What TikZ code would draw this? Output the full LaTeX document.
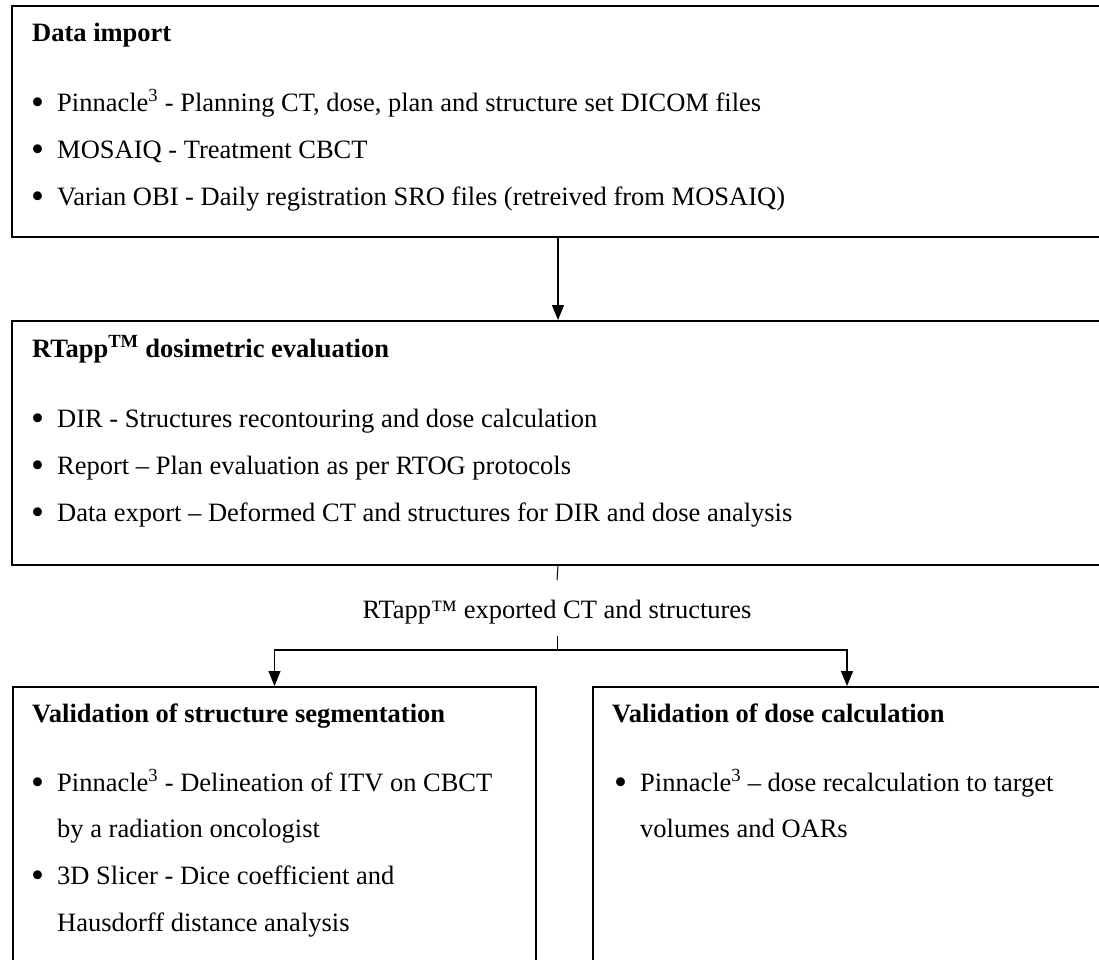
\documentclass[tikz,border=0pt]{standalone}
\usepackage{fontspec}
\setmainfont{Liberation Serif}
\usetikzlibrary{arrows.meta}
\begin{document}
\begin{tikzpicture}[x=1pt,y=-1pt,
  box/.style={draw=black,line width=2pt,rectangle,inner sep=0pt,anchor=north west},
  txt/.style={anchor=base west,inner sep=0pt,font=\fontsize{26.5}{30}\selectfont},
  ttl/.style={txt,font=\fontsize{26.5}{30}\selectfont\bfseries},
  bul/.style={anchor=base west,inner sep=0pt,font=\fontsize{37}{40}\selectfont},
  conn/.style={line width=1.2pt,draw=black},
  arr/.style={conn,-{Triangle[length=15pt,width=12pt]}}]
\useasboundingbox (0,0) rectangle (1099,959);
\clip (0,0) rectangle (1099,959);
\fill[white] (0,0) rectangle (1099,959);
% boxes
\node[box,minimum width=1092pt,minimum height=231pt] (b1) at (11,5) {};
\node[box,minimum width=1092pt,minimum height=244pt] (b2) at (11,320) {};
\node[box,minimum width=523pt,minimum height=300pt] (b3) at (12,686) {};
\node[box,minimum width=508pt,minimum height=300pt] (b4) at (592,686) {};
% box 1 text
\node[ttl] (t1) at (32,41) {Data import};
\node[bul] (d1) at (31,114) {•};
\node[txt] (l11) at (57,111) {Pinnacle\textsuperscript{3} - Planning CT, dose, plan and structure set DICOM files};
\node[bul] (d2) at (31,161) {•};
\node[txt] (l12) at (57,158) {MOSAIQ - Treatment CBCT};
\node[bul] (d3) at (31,208) {•};
\node[txt] (l13) at (57,205) {Varian OBI - Daily registration SRO files (retreived from MOSAIQ)};
% box 2 text
\node[ttl] (t2) at (32,357) {RTapp\textsuperscript{TM} dosimetric evaluation};
\node[bul] (d4) at (31,430) {•};
\node[txt] (l21) at (57,427) {DIR - Structures recontouring and dose calculation};
\node[bul] (d5) at (31,477) {•};
\node[txt] (l22) at (57,474) {Report – Plan evaluation as per RTOG protocols};
\node[bul] (d6) at (31,524) {•};
\node[txt] (l23) at (57,521) {Data export – Deformed CT and structures for DIR and dose analysis};
% box 3 text
\node[ttl] (t3) at (32,722) {Validation of structure segmentation};
\node[bul] (d7) at (31,794) {•};
\node[txt] (l31) at (57,791) {Pinnacle\textsuperscript{3} - Delineation of ITV on CBCT};
\node[txt] (l32) at (57,837) {by a radiation oncologist};
\node[bul] (d8) at (31,887) {•};
\node[txt] (l33) at (57,884) {3D Slicer - Dice coefficient and};
\node[txt] (l34) at (57,931) {Hausdorff distance analysis};
% box 4 text
\node[ttl] (t4) at (612,722) {Validation of dose calculation};
\node[bul] (d9) at (614,794) {•};
\node[txt] (l41) at (640,791) {Pinnacle\textsuperscript{3} – dose recalculation to target};
\node[txt] (l42) at (640,837) {volumes and OARs};
% connector label
\node[anchor=base,inner sep=0pt,font=\fontsize{26.5}{30}\selectfont] (lbl) at (557,618) {RTapp™ exported CT and structures};
% connectors
\draw[arr] (b1.south) -- (b2.north);
\coordinate (k1) at (557,580);
\coordinate (k2) at (557,636);
\coordinate (j) at (557,650);
\draw[conn,line width=1pt] (b2.south) -- (k1);
\draw[conn,line width=1pt] (k2) -- (j);
\draw[arr] (j) -| (b3.north);
\draw[arr] (j) -| (b4.north);
\end{tikzpicture}
\end{document}
